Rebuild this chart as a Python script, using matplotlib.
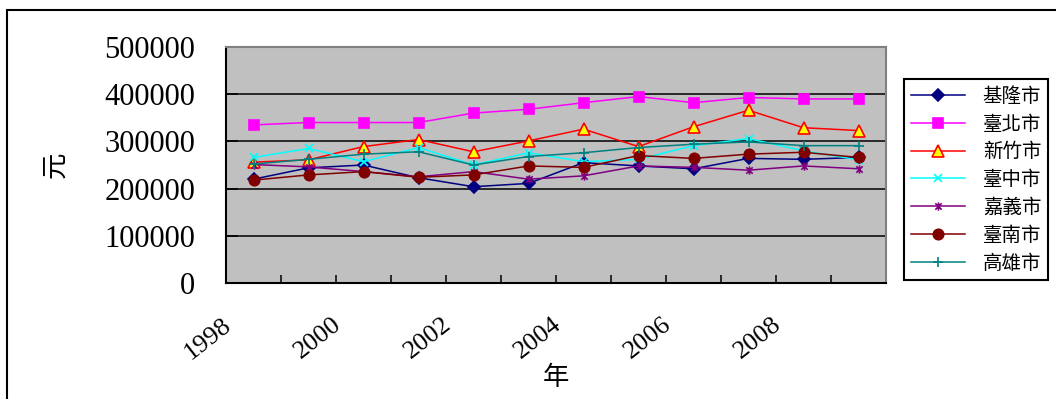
import matplotlib.pyplot as plt
from matplotlib.patches import Rectangle
from matplotlib.path import Path

plt.rcParams['font.family'] = ['Liberation Serif', 'Noto Sans CJK TC', 'DejaVu Sans']

W, H = 1056, 399

# 平均每戶所得（元），1998-2009
years = list(range(1998, 2010))
cities = ['基隆市', '臺北市', '新竹市', '臺中市', '嘉義市', '臺南市', '高雄市']
keelung = [220000, 244000, 250000, 223000, 204000, 211000,
           255000, 248000, 242000, 264000, 262000, 266000]
taipei = [335000, 340000, 340000, 340000, 360000, 368000,
          382000, 395000, 382000, 393000, 390000, 390000]
hsinchu = [256000, 261000, 289000, 304000, 278000, 301000,
           326000, 289000, 331000, 366000, 329000, 323000]
taichung = [266000, 285000, 257000, 287000, 250000, 276000,
            257000, 262000, 291000, 306000, 280000, 261000]
chiayi = [251000, 246000, 236000, 225000, 236000, 220000,
          227000, 248000, 245000, 239000, 248000, 242000]
tainan = [218000, 229000, 236000, 224000, 229000, 248000,
          245000, 270000, 264000, 273000, 277000, 266000]
kaohsiung = [252000, 262000, 273000, 278000, 250000, 268000,
             276000, 287000, 294000, 299000, 291000, 291000]
values = [keelung, taipei, hsinchu, taichung, chiayi, tainan, kaohsiung]

# Excel-style asterisk: an x with a vertical bar through it
STAR = Path([(-1, -1), (1, 1), (-1, 1), (1, -1), (0, -1.3), (0, 1.3)],
            [Path.MOVETO, Path.LINETO] * 3)

colors = ['#000080', '#FF00FF', '#FF0000', '#00FFFF', '#800080', '#800000', '#008080']
markers = ['D', 's', '^', 'x', STAR, 'o', '+']
faces = ['#000080', '#FF00FF', '#FFFF00', 'none', 'none', '#800000', 'none']
msizes = [6, 7, 8.5, 6, 6, 7.5, 7]


def income_chart():
    fig = plt.figure(figsize=(W / 100, H / 100), dpi=100)
    ax = fig.add_axes([226 / W, 1 - 283 / H, 660 / W, 236 / H])
    ax.set_facecolor('#C0C0C0')

    for name, vals, c, m, fc, ms in zip(cities, values, colors, markers, faces, msizes):
        ax.plot(years, vals, color=c, lw=1.1, marker=m, markersize=ms,
                markerfacecolor=fc, markeredgecolor=c, markeredgewidth=1.2,
                label=name, clip_on=False)

    ax.set_xlim(years[0] - 0.5, years[-1] + 0.5)
    ax.set_ylim(0, 500000)
    ax.set_yticks(range(0, 500001, 100000))
    ax.set_xticks([y - 0.5 for y in years] + [years[-1] + 0.5])
    ax.tick_params(axis='x', direction='in', length=6, width=1.1, labelbottom=False)
    ax.tick_params(axis='y', direction='in', length=8.5, width=1.1,
                   labelsize=22, pad=22)
    ax.yaxis.grid(True, color='black', lw=1.1)
    ax.set_axisbelow(True)

    for side in ('left', 'bottom'):
        ax.spines[side].set_color('black')
        ax.spines[side].set_linewidth(1.5)
    for side in ('top', 'right'):
        ax.spines[side].set_color('#808080')
        ax.spines[side].set_linewidth(1.5)

    # year labels every second category, slanted
    for yr in years[::2]:
        ax.annotate(str(yr), xy=(yr, 0), xycoords=('data', 'axes fraction'),
                    xytext=(-13, -22), textcoords='offset points',
                    rotation=38, ha='right', va='top', fontsize=19)

    ax.set_xlabel('年', fontsize=19, family='Noto Sans CJK TC')
    ax.xaxis.set_label_coords(0.5, -0.40)
    ax.xaxis.label.set_va('center')
    ax.set_ylabel('元', fontsize=19, family='Noto Sans CJK TC')
    ax.yaxis.set_label_coords(-0.26, 0.50)
    ax.yaxis.label.set_va('center')

    leg = ax.legend(loc='upper left', bbox_to_anchor=(904 / W, 1 - 79 / H),
                    bbox_transform=fig.transFigure, borderaxespad=0,
                    fancybox=False, edgecolor='black', framealpha=1,
                    prop={'family': 'Noto Sans CJK TC', 'size': 14},
                    handlelength=2.8, handletextpad=0.9, labelspacing=0.35,
                    borderpad=0.35)
    leg.get_frame().set_linewidth(1.5)

    # outer chart border
    fig.add_artist(Rectangle((7 / W, -0.1), 1.2, 1 - 10 / H + 0.1,
                             transform=fig.transFigure, fill=False,
                             edgecolor='black', lw=1.5, clip_on=False))

    fig.savefig('out.png', dpi=100)


if __name__ == '__main__':
    income_chart()
